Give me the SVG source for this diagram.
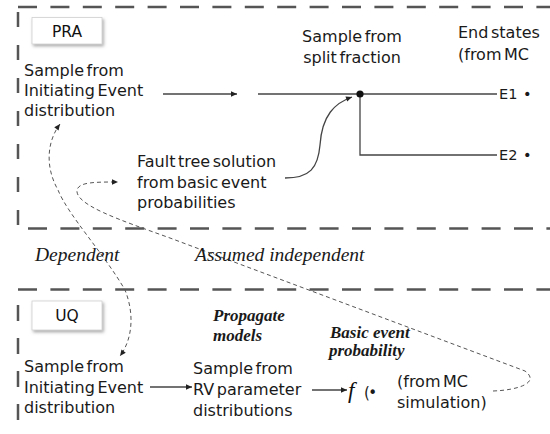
<svg xmlns="http://www.w3.org/2000/svg" width="550" height="434" viewBox="0 0 550 434">
<style>
.sans{font-family:"DejaVu Sans",sans-serif;font-size:16px;word-spacing:-2.5px;fill:#1a1a1a}
.lbl{font-family:"DejaVu Sans",sans-serif;font-size:15.5px;fill:#111}
.it{font-family:"Liberation Serif",serif;font-style:italic;font-size:19.5px;fill:#1a1a1a}
.bi{font-family:"Liberation Serif",serif;font-style:italic;font-weight:bold;font-size:17px;fill:#1a1a1a}
.sep{stroke:#555;stroke-width:2.5;fill:none}
.hd{stroke-dasharray:19 13.4}
.vd{stroke-dasharray:15 18}
.ln{stroke:#444;stroke-width:1.3;fill:none}
.dash{stroke:#555;stroke-width:1;fill:none;stroke-dasharray:4 3}
.box{fill:#fff;stroke:#d0d0d0;stroke-width:0.8;filter:url(#sh)}
</style>
<defs>
<filter id="sh" x="-20%" y="-30%" width="150%" height="180%">
<feDropShadow dx="1.5" dy="2" stdDeviation="1.5" flood-color="#777" flood-opacity="0.6"/>
</filter>
<marker id="ah" viewBox="0 0 10 10" refX="10" refY="5" markerWidth="8" markerHeight="6" orient="auto-start-reverse" markerUnits="userSpaceOnUse">
<path d="M0,0.5 L10,5 L0,9.5 z" fill="#222"/>
</marker>
</defs>

<g id="frame">
<line class="sep hd" x1="18" y1="7" x2="550" y2="7"/>
<line class="sep vd" x1="18" y1="12" x2="18" y2="228"/>
<line class="sep hd" x1="28" y1="228.5" x2="550" y2="228.5"/>
<line class="sep hd" x1="18" y1="289.5" x2="550" y2="289.5"/>
<line class="sep vd" x1="18" y1="305" x2="18" y2="434" style="stroke-dasharray:16 17"/>
</g>

<g id="connectors">
<line class="ln" x1="163" y1="94" x2="237" y2="94" marker-end="url(#ah)"/>
<line class="ln" x1="258" y1="94" x2="497" y2="94"/>
<polyline class="ln" points="360,94 360,155 497,155"/>
<circle cx="360" cy="94" r="3.6" fill="#111"/>
<path class="ln" d="M285,178 C310,178 318,168 320,145 C322,115 335,103 352,97" marker-end="url(#ah)"/>
<path class="dash" d="M60,124 C48,140 44,165 58,190 C68,215 105,255 125,290 C135,315 132,340 120,356" marker-start="url(#ah)" marker-end="url(#ah)"/>
<path class="dash" d="M493,391 C520,390 540,382 525,371 L170,238 C120,220 75,205 77,190 C79,182 95,182 118,182" marker-end="url(#ah)"/>
<line class="ln" x1="150" y1="387" x2="192" y2="387" marker-end="url(#ah)"/>
<line class="ln" x1="312" y1="390" x2="347" y2="390" marker-end="url(#ah)"/>
</g>

<g id="pra-label">
<rect class="box" x="32" y="17.5" width="70" height="26.5"/>
<text class="lbl" x="67" y="37" text-anchor="middle">PRA</text>
</g>

<g id="pra-ie">
<text class="sans" x="24" y="76">Sample from</text>
<text class="sans" x="24" y="96">Initiating Event</text>
<text class="sans" x="24" y="116">distribution</text>
</g>

<g id="split">
<text class="sans" x="352" y="42" text-anchor="middle">Sample from</text>
<text class="sans" x="352" y="63" text-anchor="middle">split fraction</text>
</g>

<g id="endstates">
<text class="sans" x="458" y="38">End states</text>
<text class="sans" x="458" y="60">(from MC</text>
</g>

<g id="e1">
<text class="sans" x="499" y="99" style="font-size:14.5px">E1<tspan x="523">•</tspan></text>
</g>
<g id="e2">
<text class="sans" x="499" y="160" style="font-size:14.5px">E2<tspan x="523">•</tspan></text>
</g>

<g id="faulttree">
<text class="sans" x="137" y="167">Fault tree solution</text>
<text class="sans" x="137" y="188">from basic event</text>
<text class="sans" x="137" y="208">probabilities</text>
</g>

<g id="dep-labels">
<text class="it" x="35" y="261">Dependent</text>
<text class="it" x="195" y="261">Assumed independent</text>
</g>

<g id="uq-label">
<rect class="box" x="32" y="301" width="70" height="29"/>
<text class="lbl" x="67" y="321" text-anchor="middle">UQ</text>
</g>

<g id="uq-ie">
<text class="sans" x="24" y="372">Sample from</text>
<text class="sans" x="24" y="393">Initiating Event</text>
<text class="sans" x="24" y="413">distribution</text>
</g>

<g id="propagate">
<text class="bi" x="213" y="321">Propagate</text>
<text class="bi" x="213" y="341">models</text>
</g>

<g id="rv">
<text class="sans" x="193" y="374">Sample from</text>
<text class="sans" x="193" y="395">RV parameter</text>
<text class="sans" x="193" y="416">distributions</text>
</g>

<g id="basic">
<text class="bi" x="330" y="338">Basic event</text>
<text class="bi" x="329" y="356">probability</text>
</g>

<g id="f">
<text x="348" y="398" style="font-family:'Liberation Serif',serif;font-style:italic;font-size:23px;fill:#111">f</text>
<text class="sans" x="364" y="398" style="font-size:15px;letter-spacing:-1.5px">(•</text>
</g>

<g id="mc">
<text class="sans" x="397" y="387">(from MC</text>
<text class="sans" x="397" y="408">simulation)</text>
</g>
</svg>
